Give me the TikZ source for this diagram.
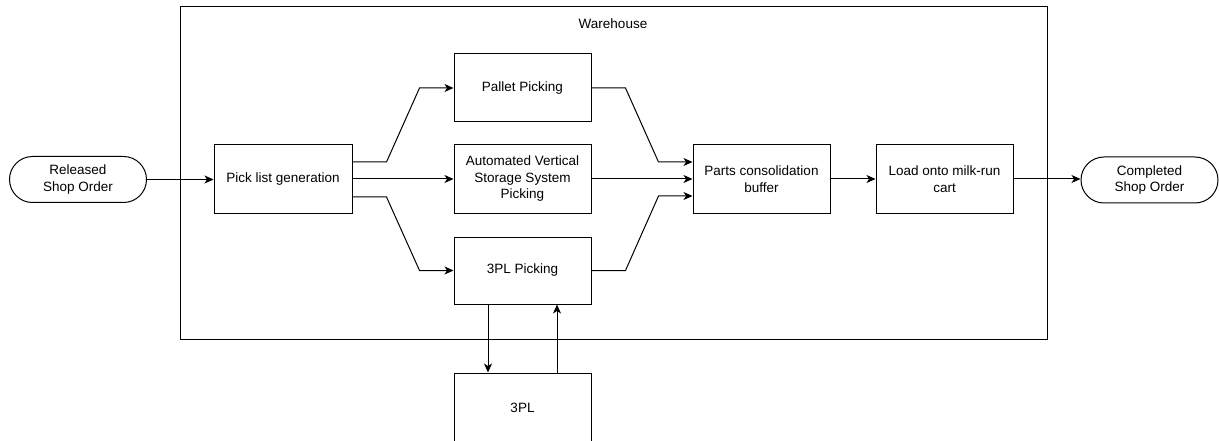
\documentclass[tikz,border=0pt]{standalone}
\usepackage{fontspec}
\setmainfont{Liberation Sans}
\usetikzlibrary{arrows.meta,calc}
\begin{document}
\begin{tikzpicture}[x=1pt,y=-1pt,
  font=\fontsize{13.5}{16.5}\selectfont,
  box/.style={draw=black,line width=1pt,fill=white,minimum width=137pt,minimum height=68pt,inner sep=0pt,align=center},
  pill/.style={box,minimum height=46pt,rounded corners=23pt},
  flow/.style={draw=black,line width=1pt,-{Stealth[length=9pt,width=8pt,inset=2.5pt]}}]
\clip (0,0) rectangle (1219,441);
\fill[white] (0,0) rectangle (1219,441);

% warehouse container
\node[draw=black,line width=1pt,minimum width=867pt,minimum height=332pt,inner sep=0pt] (wh) at (613.5,173) {};
\node (whlabel) at (613,24) {Warehouse};

% process steps
\node[pill] (rel) at (78,179.5) {Released\\Shop Order};
\node[box,minimum width=138pt] (pick) at (283,179) {Pick list generation};
\node[box] (pallet) at (522.5,88) {Pallet Picking};
\node[box] (avss) at (522.5,179) {Automated Vertical\\Storage System\\Picking};
\node[box,minimum height=67pt] (tplp) at (522.5,270.5) {3PL Picking};
\node[box] (parts) at (761.5,179) {Parts consolidation\\buffer};
\node[box] (load) at (944.5,179) {Load onto milk-run\\cart};
\node[pill] (done) at (1149.5,180) {Completed\\Shop Order};
\node[box,minimum height=70pt] (tpl) at (522.5,408) {3PL};

% connectors
\draw[flow] (rel.east) -- (rel.east -| pick.west);
\draw[flow] ($(pick.east)+(0,-17)$) -- ++(34,0) -- ($(pallet.west)+(-34,0)$) -- (pallet.west);
\draw[flow] (pick.east) -- (avss.west);
\draw[flow] ($(pick.east)+(0,18)$) -- ++(34,0) -- ($(tplp.west)+(-34,0)$) -- (tplp.west);
\draw[flow] (pallet.east) -- ++(34,0) -- ($(parts.west)+(-34,-17)$) -- ($(parts.west)+(0,-17)$);
\draw[flow] (avss.east) -- (parts.west);
\draw[flow] (tplp.east) -- ++(34,0) -- ($(parts.west)+(-34,17)$) -- ($(parts.west)+(0,17)$);
\draw[flow] (parts.east) -- (load.west);
\draw[flow] (load.east) -- (load.east -| done.west);
\draw[flow] ($(tplp.south)+(-34.5,0)$) -- ($(tpl.north)+(-34.5,0)$);
\draw[flow] ($(tpl.north)+(34.5,0)$) -- ($(tplp.south)+(34.5,0)$);
\end{tikzpicture}
\end{document}
